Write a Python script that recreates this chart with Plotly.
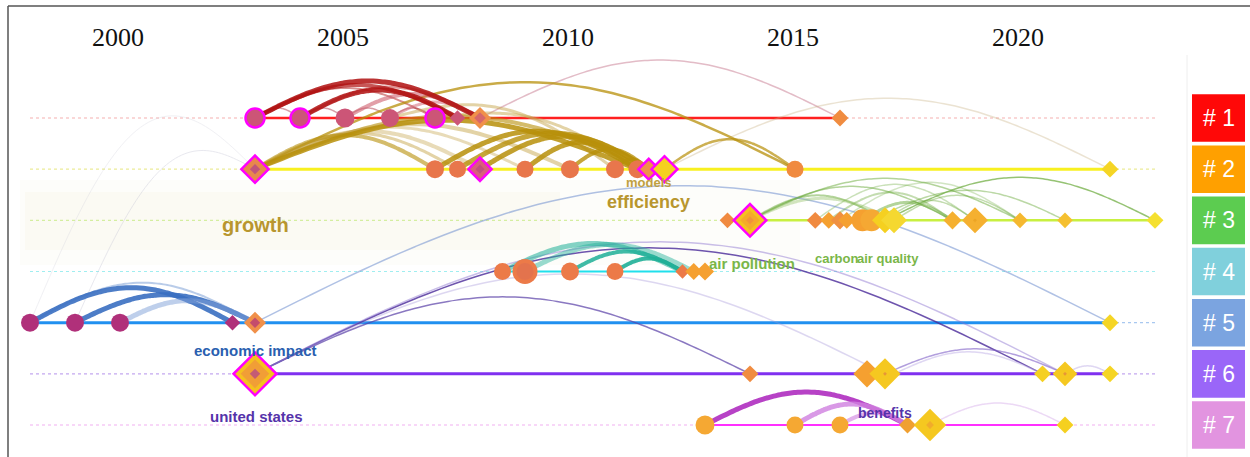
import numpy as np
import plotly.graph_objects as go

# ---------------- data ----------------
YEAR_TICKS = [2000, 2005, 2010, 2015, 2020]
CLUSTER_IDS = ["# 1", "# 2", "# 3", "# 4", "# 5", "# 6", "# 7"]
TIMELINE_START = 1998
TIMELINE_END = 2023

LANE1_YEARS = [2003, 2004, 2005, 2006, 2007, 2007.5, 2008, 2016]
LANE2_YEARS = [2003, 2007, 2007.5, 2008, 2009, 2010, 2011, 2011.5, 2011.75, 2012.1, 2015, 2022]
LANE3_YEARS = [2013.5, 2014, 2015.45, 2015.75, 2016, 2016.15, 2016.5, 2016.7, 2017, 2017.2, 2018.5, 2019, 2020, 2021, 2023]
LANE4_YEARS = [2008.5, 2009, 2010, 2011, 2012.5, 2012.75, 2013]
LANE5_YEARS = [1998, 1999, 2000, 2002.5, 2003, 2022]
LANE6_YEARS = [2003, 2014, 2016.6, 2017, 2020.5, 2021, 2022]
LANE7_YEARS = [2013, 2015, 2016, 2017.5, 2018, 2021]
LANE_YEARS = [LANE1_YEARS, LANE2_YEARS, LANE3_YEARS, LANE4_YEARS,
              LANE5_YEARS, LANE6_YEARS, LANE7_YEARS]

# co-citation links: (lane_from, year_from, lane_to, year_to)
LINKS = [
    (1, 2003, 1, 2008), (1, 2003, 1, 2007.5), (1, 2004, 1, 2007.5), (1, 2004, 1, 2008),
    (1, 2005, 1, 2008), (1, 2006, 1, 2008), (1, 2003, 1, 2007), (1, 2003, 1, 2004),
    (1, 2004, 1, 2005), (1, 2005, 1, 2006), (1, 2006, 1, 2007), (1, 2008, 1, 2016),
    (2, 2003, 2, 2015), (2, 2003, 2, 2011.5), (2, 2003, 2, 2011.75), (2, 2003, 2, 2010),
    (2, 2003, 2, 2008), (2, 2003, 2, 2009), (2, 2003, 2, 2007), (2, 2003, 2, 2007.5),
    (2, 2007, 2, 2011.5), (2, 2007.5, 2, 2011.75), (2, 2008, 2, 2011.75), (2, 2009, 2, 2011.5),
    (2, 2010, 2, 2011.75), (2, 2011, 2, 2011.75), (2, 2012.1, 2, 2015), (2, 2012.1, 2, 2022),
    (1, 2006, 2, 2011), (1, 2007, 2, 2011.5),
    (3, 2014, 3, 2020), (3, 2014, 3, 2018.5), (3, 2014, 3, 2017), (3, 2014, 3, 2017.2),
    (3, 2017, 3, 2023), (3, 2016.7, 3, 2021), (3, 2015.45, 3, 2019), (3, 2016, 3, 2020),
    (3, 2017.2, 3, 2020), (3, 2015.75, 3, 2018.5), (3, 2016.5, 3, 2018.5), (3, 2017, 3, 2019),
    (4, 2008.5, 4, 2012.5), (4, 2009, 4, 2012.75), (4, 2010, 4, 2012.5), (4, 2011, 4, 2012.5),
    (5, 1998, 5, 2002.5), (5, 1999, 5, 2003), (5, 2000, 5, 2003), (5, 1998, 5, 2003),
    (5, 2003, 5, 2022),
    (6, 2003, 6, 2020.5), (6, 2003, 6, 2021), (6, 2003, 6, 2014), (6, 2003, 6, 2017),
    (6, 2017, 6, 2021), (6, 2017.2, 6, 2020.5), (6, 2021, 6, 2022),
    (7, 2013, 7, 2017.5), (7, 2015, 7, 2017.5), (7, 2016, 7, 2017.5), (7, 2018, 7, 2021),
    (5, 1999, 2, 2003), (5, 1998, 2, 2003),
]

# keyword labels: (text, lane, year)
LABELS = [
    ("growth", 2, 2003), ("efficiency", 2, 2011.75), ("models", 2, 2011.75),
    ("air pollution", 4, 2013), ("carbon", 3, 2016), ("air quality", 3, 2017),
    ("economic impact", 5, 2003), ("united states", 6, 2003), ("benefits", 7, 2017),
]

# ---------------- styles ----------------
W, H = 1250, 457
PX_PER_YEAR = 45.0
X2000_PX = 120.0
LANE1_PX = 118.0
LANE_STEP = 51.17
MAG = "#ff00ff"

CLUSTER_COLORS = ["#ff0808", "#ffa000", "#5ccc50", "#80d0dc", "#7ba4e0", "#9a66f8", "#e294e0"]
LANE_LINE = ["#ff2020", "#f8f020", "#c8f040", "#20e0ec", "#2090f0", "#8030f0", "#ff30ff"]
LANE_LINE_W = [2.5, 3, 2.5, 2, 3, 3, 2]
LANE_DASH = ["#f5b0b0", "#ecec98", "#d4eea0", "#a0eef0", "#a8c8f0", "#c4a8f0", "#f2b0f2"]

# node styles: (symbol, size, fill, ring, inner layers [(size, color)])
C1, C2, C4, C5 = "#cc5577", "#e8764c", "#ec7a48", "#b0307a"
NODE_STYLE = [
    [("circle", 19, C1, True, []), ("circle", 19, C1, True, []), ("circle", 19, C1, False, []),
     ("circle", 18, C1, False, []), ("circle", 19, C1, True, []), ("diamond", 12, C1, False, []),
     ("diamond", 17, "#f0904a", False, [(9, C1)]), ("diamond", 13, "#f08c40", False, [])],
    [("diamond", 21, "#e8884c", True, [(8, "#b04090")]), ("circle", 18, C2, False, []),
     ("circle", 17, C2, False, []), ("diamond", 18, "#d8607a", True, [(7, "#b84a80")]),
     ("circle", 17, C2, False, []), ("circle", 18, C2, False, []), ("circle", 18, C2, False, []),
     ("circle", 18, C2, False, []), ("diamond", 16, "#f0904a", True, []),
     ("diamond", 20, "#f5d020", True, []), ("circle", 17, "#f08a40", False, []),
     ("diamond", 13, "#f5d525", False, [])],
    [("diamond", 12, "#f08a40", False, []), ("diamond", 25, "#f5c020", True, [(15, "#f5a030"), (6, "#f08a40")]),
     ("diamond", 13, "#f08a40", False, []), ("diamond", 13, "#f5a030", False, []),
     ("diamond", 14, "#f09040", False, []), ("diamond", 13, "#f5a030", False, []),
     ("circle", 22, "#f5a030", False, []), ("circle", 22, "#f5a833", False, []),
     ("diamond", 20, "#f5d020", False, []), ("diamond", 20, "#f5d830", False, []),
     ("diamond", 14, "#f5b030", False, []), ("diamond", 20, "#f5b030", False, [(3, "#e8a020")]),
     ("diamond", 12, "#f5b830", False, []), ("diamond", 12, "#f5c030", False, []),
     ("diamond", 13, "#f5e030", False, [])],
    [("circle", 17, C4, False, []), ("circle", 25, C4, False, [(17, "#e07050")]),
     ("circle", 18, C4, False, []), ("circle", 17, C4, False, []),
     ("diamond", 11, C4, False, []), ("diamond", 13, "#f5a030", False, []),
     ("diamond", 14, "#f5a030", False, [])],
    [("circle", 18, C5, False, []), ("circle", 18, C5, False, []), ("circle", 18, C5, False, []),
     ("diamond", 12, C5, False, []), ("diamond", 17, "#f0904a", False, [(8, C5)]),
     ("diamond", 13, "#f5d525", False, [])],
    [("diamond", 33, "#f5c020", True, [(22, "#f09040"), (8, "#b04090")]),
     ("diamond", 13, "#f08c40", False, []), ("diamond", 21, "#f5a030", False, []),
     ("diamond", 24, "#f5c820", False, [(3, "#e08040")]), ("diamond", 13, "#f5d020", False, []),
     ("diamond", 19, "#f5c820", False, [(3, "#e08040")]), ("diamond", 13, "#f5d525", False, [])],
    [("circle", 19, "#f5a833", False, []), ("circle", 17, "#f5a833", False, []),
     ("circle", 17, "#f5a833", False, []), ("diamond", 13, "#f0a030", False, []),
     ("diamond", 25, "#f5c820", False, [(6, "#f0a030")]), ("diamond", 13, "#f5d020", False, [])],
]

RED, GOLD, LGOLD, GRN, TEAL, BLUE = "#b01010", "#b8900a", "#c8a850", "#6aaa3a", "#20b098", "#3a6fc2"
# arc styles: (height_px, width, color, opacity)
LINK_STYLE = [
    (37, 5, RED, 0.85), (33, 4, RED, 0.7), (28, 5, RED, 0.85), (31, 3, "#c03030", 0.5),
    (24, 4, "#d06070", 0.6), (16, 3, "#d06070", 0.5), (30, 2, "#b02020", 0.5), (10, 1.5, "#b04050", 0.5),
    (10, 1.5, "#b04050", 0.5), (10, 1.5, "#b04050", 0.5), (10, 1.5, "#b04050", 0.5), (58, 1.5, "#d8a0b0", 0.7),
    (87, 2.5, GOLD, 0.75), (49, 5, GOLD, 0.85), (53, 4, GOLD, 0.6), (45, 4, LGOLD, 0.5),
    (38, 4, LGOLD, 0.4), (42, 3, LGOLD, 0.4), (34, 4, GOLD, 0.6), (36, 3, LGOLD, 0.5),
    (38, 5, GOLD, 0.85), (36, 5, GOLD, 0.8), (33, 5, GOLD, 0.85), (27, 5, GOLD, 0.85),
    (20, 4, GOLD, 0.8), (10, 3, GOLD, 0.7), (30, 2.5, GOLD, 0.7), (71, 1.5, "#c8b080", 0.35),
    (35, 3, LGOLD, 0.5), (25, 3, LGOLD, 0.5),
    (42, 1.5, GRN, 0.5), (34, 1.5, GRN, 0.5), (25, 2, GRN, 0.5), (22, 3, "#90c060", 0.4),
    (43, 1.5, GRN, 0.7), (30, 1.5, GRN, 0.45), (36, 1.5, GRN, 0.35), (38, 1.5, GRN, 0.3),
    (25, 1.5, GRN, 0.4), (28, 2, GRN, 0.4), (18, 3, GRN, 0.5), (20, 1.5, GRN, 0.4),
    (28, 5, TEAL, 0.55), (27, 5, TEAL, 0.45), (20, 4, TEAL, 0.85), (13, 4, TEAL, 0.9),
    (35, 5, BLUE, 0.9), (28, 5, BLUE, 0.9), (22, 5, "#7fa0d8", 0.5), (40, 2, BLUE, 0.35),
    (137, 1.5, "#7090d0", 0.55),
    (126, 1.5, "#4a2a9a", 0.8), (132, 1.5, "#8a70d0", 0.45), (77, 1.5, "#5a40a8", 0.7), (100, 1.5, "#a090d8", 0.35),
    (25, 1.5, "#8060c8", 0.6), (22, 1.5, "#c0b0e8", 0.5), (8, 1.5, "#c0b0e8", 0.5),
    (33, 5, "#b02ec0", 0.9), (21, 5, "#d080e0", 0.8), (12, 4, "#d080e0", 0.6), (22, 1.5, "#e0c0f0", 0.6),
    (80, 1, "#c8c8d8", 0.4), (120, 1, "#d0d0dc", 0.3),
]

# label styles: (xshift, yshift (+ = up), size, color)
LABEL_STYLE = [
    (0, -56, 20, "#b8962e"), (0, -33, 18, "#b8962e"), (0, -13, 13, "#c0a040"),
    (47, 8, 15, "#7ab648"), (-4, -38, 13, "#7ab648"), (3, -38, 13, "#7ab648"),
    (0, -28, 15, "#2a5fb0"), (1, -43, 15, "#5533aa"), (0, 12, 14, "#5533aa"),
]

# ---------------- figure ----------------
x_lo = 2000 - X2000_PX / PX_PER_YEAR
x_hi = 2000 + (W - X2000_PX) / PX_PER_YEAR
y_top = 1 - LANE1_PX / LANE_STEP
y_bot = 1 + (H - LANE1_PX) / LANE_STEP


def px_x(px):
    return 2000 + (px - X2000_PX) / PX_PER_YEAR


def px_y(py):
    return 1 + (py - LANE1_PX) / LANE_STEP


fig = go.Figure()

# dashed full-span guides and solid active spans
for i, yrs in enumerate(LANE_YEARS):
    lane = i + 1
    fig.add_trace(go.Scatter(x=[TIMELINE_START, TIMELINE_END], y=[lane, lane], mode="lines",
                             line=dict(color=LANE_DASH[i], width=1.2, dash="dot"),
                             hoverinfo="skip", showlegend=False))
for i, yrs in enumerate(LANE_YEARS):
    lane = i + 1
    fig.add_trace(go.Scatter(x=[min(yrs), max(yrs)], y=[lane, lane], mode="lines",
                             line=dict(color=LANE_LINE[i], width=LANE_LINE_W[i]),
                             hoverinfo="skip", showlegend=False))

# arcs
t = np.linspace(0, 1, 60)
order = sorted(range(len(LINKS)), key=lambda k: LINK_STYLE[k][1])
for k in order:
    la, xa, lb, xb = LINKS[k]
    h, w, c, op = LINK_STYLE[k]
    xs = xa + (xb - xa) * t
    ys = la + (lb - la) * t - (h / LANE_STEP) * np.sin(np.pi * t)
    fig.add_trace(go.Scatter(x=xs, y=ys, mode="lines", opacity=op,
                             line=dict(color=c, width=w, shape="spline"),
                             hoverinfo="skip", showlegend=False))

# nodes (outer layer)
ox, oy, osym, osz, ocol, olw = [], [], [], [], [], []
layers = {}
for i, yrs in enumerate(LANE_YEARS):
    for yr, st in zip(yrs, NODE_STYLE[i]):
        sym, sz, fill, ring, inner = st
        ox.append(yr); oy.append(i + 1); osym.append(sym); osz.append(sz); ocol.append(fill)
        olw.append(2.5 if ring else 0)
        for j, (isz, icol) in enumerate(inner):
            layers.setdefault(j, []).append((yr, i + 1, sym, isz, icol))
fig.add_trace(go.Scatter(x=ox, y=oy, mode="markers", hoverinfo="skip", showlegend=False,
                         marker=dict(symbol=osym, size=osz, color=ocol, opacity=1,
                                     line=dict(color=MAG, width=olw))))
for j in sorted(layers):
    L = layers[j]
    fig.add_trace(go.Scatter(x=[a[0] for a in L], y=[a[1] for a in L], mode="markers",
                             hoverinfo="skip", showlegend=False,
                             marker=dict(symbol=[a[2] for a in L], size=[a[3] for a in L],
                                         color=[a[4] for a in L], line=dict(width=0))))

shapes = []
annotations = []

# faint cream wash behind the upper-left labels
shapes.append(dict(type="rect", xref="x", yref="y", x0=px_x(20), x1=px_x(800),
                   y0=px_y(180), y1=px_y(265),
                   fillcolor="rgba(240,232,205,0.10)", line=dict(width=0), layer="below"))
shapes.append(dict(type="rect", xref="x", yref="y", x0=px_x(25), x1=px_x(560),
                   y0=px_y(192), y1=px_y(250),
                   fillcolor="rgba(240,232,205,0.15)", line=dict(width=0), layer="below"))

# keyword labels
for (txt, lane, yr), (xs_, ys_, sz, col) in zip(LABELS, LABEL_STYLE):
    annotations.append(dict(x=yr, y=lane, xref="x", yref="y", text=txt, showarrow=False,
                            xshift=xs_, yshift=ys_, xanchor="center", yanchor="middle",
                            font=dict(family="Liberation Sans, Arial, sans-serif", size=sz,
                                      color=col, weight="bold")))

# year labels
for yr in YEAR_TICKS:
    annotations.append(dict(x=yr, y=1 - 37 / H, xref="x", yref="paper", text=str(yr),
                            showarrow=False, xshift=-2, xanchor="center", yanchor="middle",
                            font=dict(family="Liberation Serif, Times New Roman, serif",
                                      size=26, color="#111111")))

# cluster legend boxes
for i, (cid, col) in enumerate(zip(CLUSTER_IDS, CLUSTER_COLORS)):
    lane = i + 1
    shapes.append(dict(type="rect", xref="paper", yref="y", x0=1192 / W, x1=1245 / W,
                       y0=lane - 0.465, y1=lane + 0.465, fillcolor=col, line=dict(width=0)))
    annotations.append(dict(x=1218.5 / W, y=lane, xref="paper", yref="y", text=cid,
                            showarrow=False, xanchor="center", yanchor="middle",
                            font=dict(family="Liberation Sans, Arial, sans-serif",
                                      size=23, color="white")))

# frame
shapes.append(dict(type="line", xref="paper", yref="paper", x0=8 / W, x1=8 / W,
                   y0=0, y1=1 - 6 / H, line=dict(color="#555555", width=1.5)))
shapes.append(dict(type="line", xref="paper", yref="paper", x0=8 / W, x1=1,
                   y0=1 - 6 / H, y1=1 - 6 / H, line=dict(color="#555555", width=1.5)))
shapes.append(dict(type="line", xref="paper", yref="paper", x0=1187 / W, x1=1187 / W,
                   y0=0, y1=1 - 55 / H, line=dict(color="#eeeeee", width=1)))

fig.update_layout(
    width=W, height=H, autosize=False,
    margin=dict(l=0, r=0, t=0, b=0, pad=0),
    paper_bgcolor="white", plot_bgcolor="white",
    xaxis=dict(range=[x_lo, x_hi], visible=False, showgrid=False, zeroline=False, fixedrange=True),
    yaxis=dict(range=[y_bot, y_top], visible=False, showgrid=False, zeroline=False, fixedrange=True),
    shapes=shapes, annotations=annotations, showlegend=False,
)

fig.write_html("out.html", config={"displayModeBar": False})
